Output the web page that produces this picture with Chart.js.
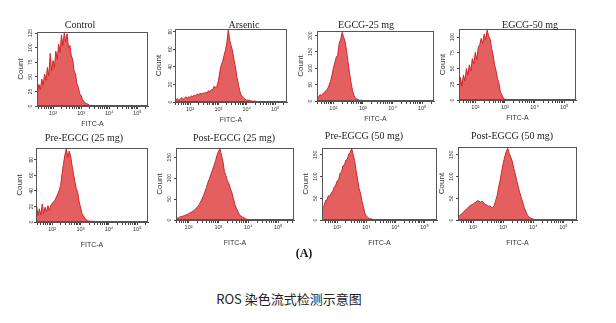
<!DOCTYPE html>
<html>
<head>
<meta charset="utf-8">
<script src="https://cdn.jsdelivr.net/npm/chart.js@4/dist/chart.umd.min.js"></script>
<style>
  body { margin: 0; background: #fff; width: 616px; height: 323px; overflow: hidden; position: relative; }
  #panels { position: absolute; left: 0; top: 0; width: 616px; height: 270px; filter: blur(0.45px); }
  #panels canvas { position: absolute; }
  .ptitle { position: absolute; font: 10px "Liberation Serif", serif; color: #222; white-space: nowrap; transform: translate(-50%, -50%); }
  #tag { position: absolute; left: 304px; top: 253px; transform: translate(-50%, -50%); font: bold 12px "Liberation Serif", serif; color: #111; }
  #caption { position: absolute; left: 289px; top: 298px; transform: translate(-50%, -50%); font: 13px "Noto Sans CJK SC", sans-serif; color: #222; white-space: nowrap; }
</style>
</head>
<body>
<div id="panels"><div id="tag">(A)</div></div>
<div id="caption">ROS 染色流式检测示意图</div>
<script>
// FITC-A bin centres (log10 of intensity), shared by all histograms
const fitcBins = [1.40, 1.45, 1.50, 1.55, 1.60, 1.65, 1.70, 1.75, 1.80, 1.85,
                  1.90, 1.95, 2.00, 2.05, 2.10, 2.15, 2.20, 2.25, 2.30, 2.35,
                  2.40, 2.45, 2.50, 2.55, 2.60, 2.65, 2.70, 2.75, 2.80, 2.85,
                  2.90, 2.95, 3.00, 3.05, 3.10, 3.15, 3.20, 3.25, 3.30, 3.35,
                  3.40, 3.45, 3.50, 3.55, 3.60, 3.65, 3.70, 3.75, 3.80, 3.85,
                  3.90, 3.95, 4.00, 4.05, 4.10, 4.15, 4.20, 4.25, 4.30, 4.35];

const panelTitles = ['Control', 'Arsenic', 'EGCG-25 mg', 'EGCG-50 mg',
                     'Pre-EGCG (25 mg)', 'Post-EGCG (25 mg)', 'Pre-EGCG (50 mg)', 'Post-EGCG (50 mg)'];

// cell counts per bin
const countControl = [31, 22, 37, 28, 46, 36, 55, 44, 66, 52, 90, 60, 78, 66, 94, 80, 106, 92, 122, 104,
                      125, 110, 124, 100, 104, 86, 80, 60, 55, 38, 32, 21, 18, 11, 8, 5, 4, 3, 1, 1, 1, 0];
const countArsenic = [2, 3, 2, 4, 2, 3, 5, 3, 4, 6, 4, 6, 5, 7, 6, 8, 7, 9, 8, 10,
                      9, 10, 10, 11, 10, 13, 11, 14, 14, 18, 16, 18, 24, 34, 42, 46, 53, 59, 68, 82,
                      70, 64, 58, 48, 40, 29, 21, 13, 8, 6, 4, 3, 2, 2, 2, 1, 1, 1, 1, 0];
const countEgcg25 = [13, 17, 11, 19, 17, 23, 25, 32, 36, 46, 59, 76, 99, 116, 134, 140, 176, 189, 210, 195,
                     181, 151, 118, 84, 55, 32, 17, 8, 6, 4, 2, 2, 2, 1, 1, 0];
const countEgcg50 = [16, 10, 36, 22, 40, 30, 50, 40, 56, 46, 66, 58, 76, 64, 84, 88, 98, 90, 105, 96,
                     111, 102, 97, 82, 72, 56, 47, 34, 26, 12, 8, 3, 1, 1, 0];
const countPre25 = [9, 21, 8, 17, 9, 23, 11, 19, 13, 21, 15, 21, 24, 26, 28, 32, 36, 41, 47, 62,
                    75, 86, 94, 83, 91, 85, 73, 62, 52, 43, 38, 26, 19, 11, 8, 5, 3, 2, 1, 1, 1, 1, 0];
const countPost25 = [3, 3, 6, 3, 6, 4, 7, 8, 9, 10, 12, 13, 15, 17, 19, 21, 24, 28, 31, 36,
                     43, 50, 58, 68, 78, 90, 99, 109, 119, 130, 140, 154, 164, 170, 155, 140, 116, 106, 94, 86,
                     75, 65, 52, 37, 28, 21, 13, 10, 7, 6, 3, 2, 1, 0];
const countPre50 = [24, 16, 30, 32, 45, 46, 56, 55, 62, 66, 76, 80, 90, 92, 108, 110, 125, 126, 138, 140,
                    152, 156, 165, 150, 137, 114, 95, 73, 62, 44, 31, 16, 10, 6, 3, 3, 2, 1, 0];
const countPost50 = [5, 7, 8, 10, 13, 15, 20, 23, 26, 30, 33, 35, 36, 40, 41, 45, 43, 41, 43, 40,
                     36, 35, 31, 33, 30, 28, 33, 45, 56, 76, 92, 112, 130, 145, 157, 165, 153, 145, 135, 119,
                     106, 91, 76, 63, 51, 40, 28, 20, 12, 7, 5, 3, 2, 0];

const panelCounts = [countControl, countArsenic, countEgcg25, countEgcg50,
                     countPre25, countPost25, countPre50, countPost50];

// Count axis top and step for each panel
const countMax = [127, 83, 214, 113, 95, 172, 166, 168];
const countStep = [25, 20, 50, 25, 10, 50, 50, 50];

// labelled decades on the FITC-A axis
const decadeLabels = { 2: '10²', 3: '10³', 4: '10⁴', 5: '10⁵' };

// layout: chart area of each panel (left, top, right, bottom), title centre, left end of the log axis
const plotBoxes = [
  [37, 32, 148, 106], [175, 29, 287, 102], [317, 31, 434, 101], [459, 29, 576, 100],
  [36, 148, 148, 222], [176, 148, 294, 220], [322, 148, 437, 220], [458, 147, 577, 220]
];
const titleSpots = [[80, 24], [244, 24], [366, 24], [530, 24], [84, 137], [234, 137], [364, 135], [512, 135]];
const xLogMin = [1.43, 1.47, 1.45, 1.45, 1.43, 1.58, 1.48, 1.50];
const DECADES = 3.95;

const Y_AXIS_W = 21, PAD_TOP = 6, PAD_RIGHT = 3;

// box around the plotting region
const frame = {
  id: 'frame',
  afterDraw(chart) {
    const { ctx, chartArea: a } = chart;
    ctx.save();
    ctx.strokeStyle = '#555';
    ctx.lineWidth = 1;
    ctx.strokeRect(a.left + 0.5, a.top + 0.5, a.right - a.left - 1, a.bottom - a.top - 1);
    ctx.restore();
  }
};

const panels = document.getElementById('panels');

plotBoxes.forEach(([l, t, r, b], i) => {
  const xAxisH = i < 4 ? 22 : 27;
  const canvas = document.createElement('canvas');
  canvas.width = r - l + Y_AXIS_W + PAD_RIGHT;
  canvas.height = b - t + PAD_TOP + xAxisH;
  canvas.style.left = (l - Y_AXIS_W) + 'px';
  canvas.style.top = (t - PAD_TOP) + 'px';
  panels.appendChild(canvas);

  const title = document.createElement('div');
  title.className = 'ptitle';
  title.textContent = panelTitles[i];
  title.style.left = titleSpots[i][0] + 'px';
  title.style.top = titleSpots[i][1] + 'px';
  panels.appendChild(title);

  const lo = xLogMin[i], hi = lo + DECADES;
  // log-spaced tick marks (1..9 x 10^n)
  const logTicks = [];
  for (let n = 1; n <= 5; n++) {
    for (let k = 1; k <= 9; k++) {
      const v = n + Math.log10(k);
      if (v > lo && v < hi) logTicks.push(v);
    }
  }

  new Chart(canvas, {
    type: 'line',
    data: {
      datasets: [{
        data: panelCounts[i].map((c, j) => ({ x: fitcBins[j], y: c })),
        borderColor: '#d62222',
        borderWidth: 1,
        backgroundColor: 'rgba(220, 50, 50, 0.78)',
        fill: 'origin',
        pointRadius: 0,
        tension: 0
      }]
    },
    options: {
      responsive: false,
      animation: false,
      devicePixelRatio: 1,
      layout: { padding: { top: PAD_TOP, right: PAD_RIGHT, left: 0, bottom: 0 } },
      plugins: {
        legend: { display: false },
        tooltip: { enabled: false }
      },
      scales: {
        x: {
          type: 'linear',
          min: lo,
          max: hi,
          afterBuildTicks: axis => { axis.ticks = logTicks.map(v => ({ value: v })); },
          afterFit: axis => { axis.height = xAxisH; },
          grid: { drawOnChartArea: false, tickLength: 3, tickColor: '#444' },
          border: { color: '#555' },
          ticks: {
            autoSkip: false,
            maxRotation: 0,
            padding: 1,
            color: '#333',
            font: { size: 5.5, family: "'Liberation Sans', sans-serif" },
            callback: function(value) {
              const d = Math.round(value);
              return Math.abs(value - d) < 1e-9 && decadeLabels[d] ? decadeLabels[d] : '';
            }
          },
          title: {
            display: true,
            text: 'FITC-A',
            color: '#333',
            padding: 0,
            font: { size: 7, family: "'Liberation Sans', sans-serif" }
          }
        },
        y: {
          min: 0,
          max: countMax[i],
          afterFit: axis => { axis.width = Y_AXIS_W; },
          grid: { drawOnChartArea: false, tickLength: 2, tickColor: '#444' },
          border: { color: '#555' },
          ticks: {
            stepSize: countStep[i],
            includeBounds: false,
            minRotation: 90,
            maxRotation: 90,
            crossAlign: 'center',
            padding: 0,
            color: '#333',
            font: { size: 5, family: "'Liberation Sans', sans-serif" }
          },
          title: {
            display: true,
            text: 'Count',
            color: '#333',
            padding: 0,
            font: { size: 8, family: "'Liberation Sans', sans-serif" }
          }
        }
      }
    },
    plugins: [frame]
  });
});
</script>
</body>
</html>
